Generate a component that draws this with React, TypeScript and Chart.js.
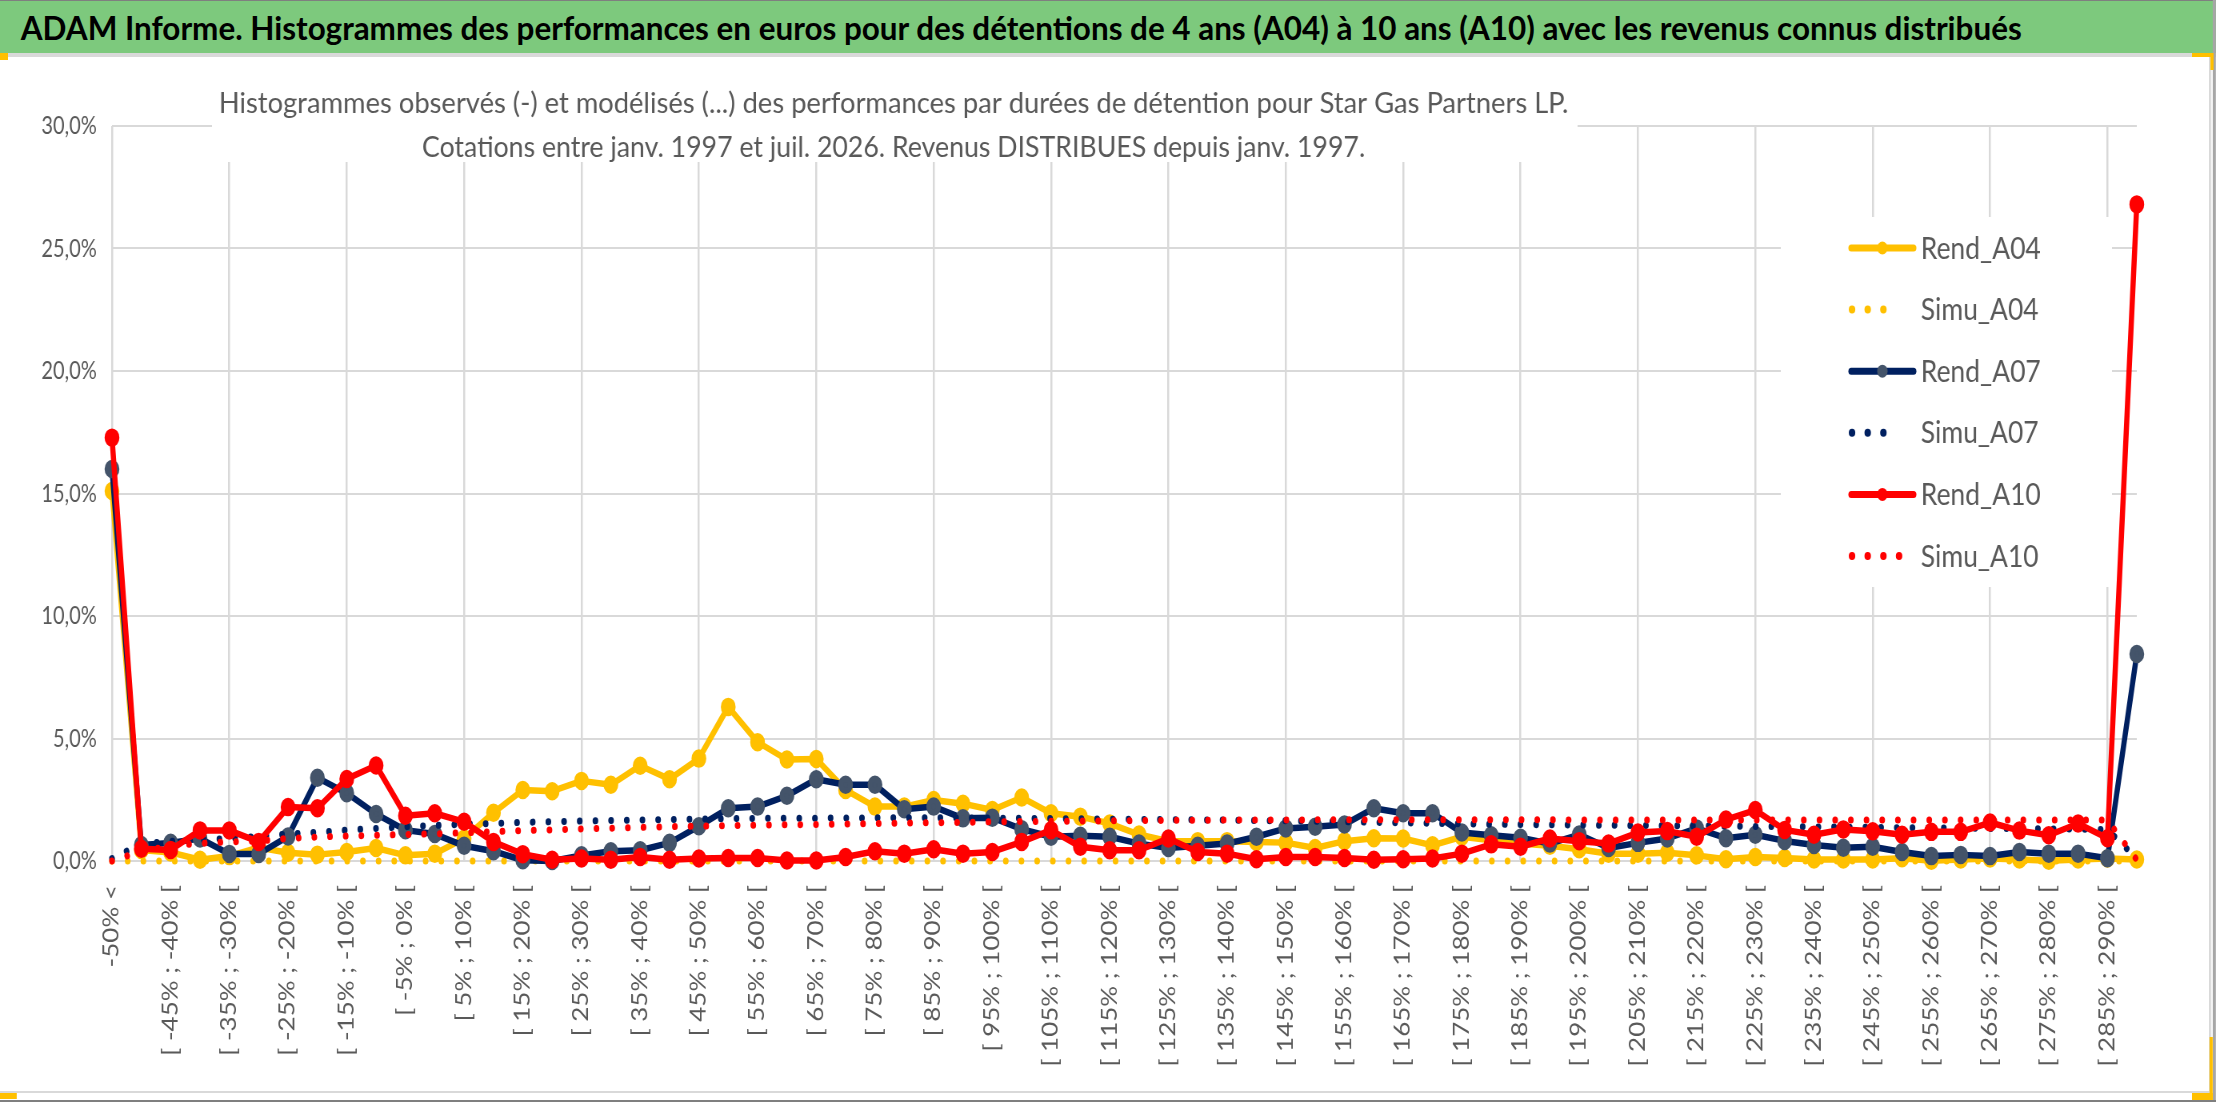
import React, { useEffect, useRef } from 'react';
import { Chart, registerables } from 'chart.js';

Chart.register(...registerables);

// The reference picture is horizontally condensed: everything is laid out
// in a wider box and squeezed back to the page width.
const SQUEEZE = 0.8;
const PAGE_W = 2216;
const PAGE_H = 1102;
const INNER_W = PAGE_W / SQUEEZE;

const FONT = 'Lato, "Open Sans", sans-serif';
const TEXT_GREY = '#595959';
const GRID = '#D9D9D9';
const YELLOW = '#FFC000';
const NAVY = '#002060';
const SLATE = '#44546A';
const RED = '#FF0000';

const TITLE =
  'ADAM Informe. Histogrammes des performances en euros pour des détentions de 4 ans (A04) à 10 ans (A10) avec les revenus connus distribués';
const SUBTITLE = [
  'Histogrammes observés (-) et modélisés (...) des performances par durées de détention pour Star Gas Partners LP.',
  'Cotations entre janv. 1997 et juil. 2026. Revenus DISTRIBUES depuis janv. 1997.',
];

const categories = [
  '-50% <',
  '[ -50% ; -45% [', '[ -45% ; -40% [', '[ -40% ; -35% [', '[ -35% ; -30% [', '[ -30% ; -25% [',
  '[ -25% ; -20% [', '[ -20% ; -15% [', '[ -15% ; -10% [', '[ -10% ; -5% [', '[ -5% ; 0% [',
  '[ 0% ; 5% [', '[ 5% ; 10% [', '[ 10% ; 15% [', '[ 15% ; 20% [', '[ 20% ; 25% [',
  '[ 25% ; 30% [', '[ 30% ; 35% [', '[ 35% ; 40% [', '[ 40% ; 45% [', '[ 45% ; 50% [',
  '[ 50% ; 55% [', '[ 55% ; 60% [', '[ 60% ; 65% [', '[ 65% ; 70% [', '[ 70% ; 75% [',
  '[ 75% ; 80% [', '[ 80% ; 85% [', '[ 85% ; 90% [', '[ 90% ; 95% [', '[ 95% ; 100% [',
  '[ 100% ; 105% [', '[ 105% ; 110% [', '[ 110% ; 115% [', '[ 115% ; 120% [', '[ 120% ; 125% [',
  '[ 125% ; 130% [', '[ 130% ; 135% [', '[ 135% ; 140% [', '[ 140% ; 145% [', '[ 145% ; 150% [',
  '[ 150% ; 155% [', '[ 155% ; 160% [', '[ 160% ; 165% [', '[ 165% ; 170% [', '[ 170% ; 175% [',
  '[ 175% ; 180% [', '[ 180% ; 185% [', '[ 185% ; 190% [', '[ 190% ; 195% [', '[ 195% ; 200% [',
  '[ 200% ; 205% [', '[ 205% ; 210% [', '[ 210% ; 215% [', '[ 215% ; 220% [', '[ 220% ; 225% [',
  '[ 225% ; 230% [', '[ 230% ; 235% [', '[ 235% ; 240% [', '[ 240% ; 245% [', '[ 245% ; 250% [',
  '[ 250% ; 255% [', '[ 255% ; 260% [', '[ 260% ; 265% [', '[ 265% ; 270% [', '[ 270% ; 275% [',
  '[ 275% ; 280% [', '[ 280% ; 285% [', '[ 285% ; 290% [', '> 290%',
];

// values in %
const rendA04 = [
  15.1, 0.45, 0.35, 0.05, 0.2, 0.55, 0.34, 0.26, 0.37, 0.53,
  0.23, 0.3, 0.92, 1.97, 2.9, 2.85, 3.27, 3.11, 3.89, 3.34,
  4.18, 6.29, 4.85, 4.14, 4.16, 2.9, 2.22, 2.22, 2.49, 2.34,
  2.08, 2.59, 1.95, 1.81, 1.53, 1.08, 0.81, 0.81, 0.81, 0.78,
  0.75, 0.53, 0.81, 0.93, 0.92, 0.64, 0.99, 0.85, 0.71, 0.62,
  0.48, 0.3, 0.3, 0.34, 0.23, 0.07, 0.16, 0.12, 0.06, 0.06,
  0.06, 0.11, 0.01, 0.06, 0.1, 0.06, 0.01, 0.06, 0.1, 0.06,
];
const simuA04 = [
  0, 0, 0, 0, 0, 0, 0, 0, 0, 0,
  0, 0, 0, 0, 0, 0, 0, 0, 0, 0,
  0, 0, 0, 0, 0, 0, 0, 0, 0, 0,
  0, 0, 0, 0, 0, 0, 0, 0, 0, 0,
  0, 0, 0, 0, 0, 0, 0, 0, 0, 0,
  0, 0, 0, 0, 0, 0, 0, 0, 0, 0,
  0, 0, 0, 0, 0, 0, 0, 0, 0, 0,
];
const rendA07 = [
  16.0, 0.65, 0.74, 0.92, 0.29, 0.29, 1.0, 3.4, 2.77, 1.92,
  1.26, 1.1, 0.62, 0.4, 0.03, 0.0, 0.23, 0.4, 0.44, 0.74,
  1.42, 2.15, 2.22, 2.66, 3.34, 3.11, 3.11, 2.11, 2.22, 1.74,
  1.77, 1.3, 0.99, 1.03, 0.99, 0.71, 0.53, 0.62, 0.71, 0.99,
  1.33, 1.4, 1.49, 2.15, 1.95, 1.95, 1.16, 1.05, 0.95, 0.71,
  1.08, 0.53, 0.74, 0.92, 1.33, 0.93, 1.07, 0.82, 0.65, 0.54,
  0.58, 0.37, 0.2, 0.25, 0.2, 0.37, 0.3, 0.3, 0.11, 8.45,
];
const simuA07 = [
  0.1, 0.7, 0.8, 0.85, 0.92, 1.0, 1.1, 1.17, 1.26, 1.33,
  1.4, 1.45, 1.5, 1.53, 1.58, 1.6, 1.63, 1.65, 1.67, 1.69,
  1.71, 1.73, 1.74, 1.75, 1.75, 1.76, 1.76, 1.77, 1.77, 1.76,
  1.75, 1.74, 1.73, 1.72, 1.71, 1.7, 1.69, 1.68, 1.67, 1.65,
  1.64, 1.62, 1.6, 1.58, 1.56, 1.54, 1.52, 1.5, 1.49, 1.48,
  1.47, 1.46, 1.45, 1.44, 1.43, 1.42, 1.41, 1.4, 1.39, 1.38,
  1.37, 1.36, 1.35, 1.34, 1.33, 1.32, 1.31, 1.3, 1.28, 0.1,
];
const rendA10 = [
  17.28, 0.5, 0.45, 1.25, 1.25, 0.78, 2.2, 2.15, 3.35, 3.9,
  1.85, 1.95, 1.6, 0.78, 0.28, 0.05, 0.1, 0.05, 0.16, 0.05,
  0.1, 0.12, 0.12, 0.02, 0.02, 0.16, 0.4, 0.3, 0.48, 0.3,
  0.37, 0.78, 1.26, 0.58, 0.44, 0.44, 0.92, 0.37, 0.3, 0.07,
  0.16, 0.16, 0.12, 0.05, 0.07, 0.1, 0.3, 0.68, 0.58, 0.92,
  0.81, 0.71, 1.16, 1.22, 0.99, 1.69, 2.08, 1.27, 1.07, 1.29,
  1.21, 1.07, 1.19, 1.19, 1.57, 1.24, 1.05, 1.53, 0.93, 26.8,
];
const simuA10 = [
  0.0, 0.4, 0.62, 0.72, 0.78, 0.82, 0.92, 0.98, 1.02, 1.05,
  1.08, 1.11, 1.15, 1.2, 1.24, 1.27, 1.31, 1.34, 1.37, 1.4,
  1.42, 1.44, 1.46, 1.48, 1.49, 1.51, 1.53, 1.55, 1.56, 1.58,
  1.6, 1.61, 1.62, 1.63, 1.64, 1.65, 1.66, 1.66, 1.67, 1.67,
  1.67, 1.68, 1.68, 1.68, 1.68, 1.68, 1.68, 1.68, 1.68, 1.68,
  1.67, 1.67, 1.67, 1.67, 1.67, 1.67, 1.67, 1.67, 1.67, 1.67,
  1.67, 1.67, 1.67, 1.67, 1.67, 1.67, 1.67, 1.67, 1.67, 0.05,
];

const legendItems = [
  { label: 'Rend_A04', line: YELLOW, marker: YELLOW, dots: 0 },
  { label: 'Simu_A04', line: YELLOW, marker: '', dots: 4 },
  { label: 'Rend_A07', line: NAVY, marker: SLATE, dots: 0 },
  { label: 'Simu_A07', line: NAVY, marker: '', dots: 4 },
  { label: 'Rend_A10', line: RED, marker: RED, dots: 0 },
  { label: 'Simu_A10', line: RED, marker: '', dots: 5 },
];

const DOT_GAP = 19.5;

function measure(text: string, font: string): number {
  const ctx = document.createElement('canvas').getContext('2d');
  if (!ctx) return 1;
  ctx.font = font;
  return ctx.measureText(text).width;
}

// subtitle box and legend, drawn over the plot with white backgrounds
const overlayPlugin = {
  id: 'overlay',
  afterDraw(chart: Chart) {
    const ctx = chart.ctx;
    ctx.save();

    ctx.fillStyle = '#FFFFFF';
    ctx.fillRect(265, 28, 1707, 77);
    ctx.fillStyle = TEXT_GREY;
    ctx.font = `29px ${FONT}`;
    ctx.textAlign = 'center';
    ctx.textBaseline = 'alphabetic';
    const targets = [1687, 1179];
    const baselines = [56, 100];
    SUBTITLE.forEach((line, i) => {
      const w = ctx.measureText(line).width;
      ctx.save();
      ctx.translate(1117, baselines[i]);
      ctx.scale(targets[i] / w, 1);
      ctx.fillText(line, 0, 0);
      ctx.restore();
    });

    ctx.fillStyle = '#FFFFFF';
    ctx.fillRect(2226, 160, 414, 370);
    ctx.font = `30px ${FONT}`;
    ctx.textAlign = 'left';
    ctx.textBaseline = 'middle';
    const textScale = 150 / ctx.measureText('Rend_A04').width;
    legendItems.forEach((item, i) => {
      const y = 191 + i * 61.6;
      ctx.strokeStyle = item.line;
      ctx.lineCap = 'round';
      if (item.dots > 0) {
        ctx.lineWidth = 8;
        ctx.setLineDash([0.1, DOT_GAP]);
        ctx.beginPath();
        ctx.moveTo(2315, y);
        ctx.lineTo(2315 + (item.dots - 1) * DOT_GAP + 0.2, y);
        ctx.stroke();
        ctx.setLineDash([]);
      } else {
        ctx.lineWidth = 7;
        ctx.beginPath();
        ctx.moveTo(2314, y);
        ctx.lineTo(2392, y);
        ctx.stroke();
        ctx.fillStyle = item.marker;
        ctx.beginPath();
        ctx.arc(2353, y, 6.5, 0, Math.PI * 2);
        ctx.fill();
      }
      ctx.fillStyle = TEXT_GREY;
      ctx.save();
      ctx.translate(2401, y + 1);
      ctx.scale(textScale, 1);
      ctx.fillText(item.label, 0, 0);
      ctx.restore();
    });

    ctx.restore();
  },
};

const rendStyle = (line: string, marker: string, order: number) => ({
  borderColor: line,
  backgroundColor: marker,
  pointBackgroundColor: marker,
  pointBorderColor: marker,
  borderWidth: 6.5,
  borderJoinStyle: 'round' as const,
  pointRadius: 6,
  pointHoverRadius: 6,
  tension: 0,
  clip: false as const,
  order,
});

const simuStyle = (color: string, order: number) => ({
  borderColor: color,
  backgroundColor: color,
  borderWidth: 7,
  borderDash: [0.1, DOT_GAP],
  borderCapStyle: 'round' as const,
  pointRadius: 0,
  pointHoverRadius: 0,
  tension: 0,
  clip: false as const,
  order,
});

const HistoChart: React.FC = () => {
  const canvasRef = useRef<HTMLCanvasElement | null>(null);

  useEffect(() => {
    const canvas = canvasRef.current;
    if (!canvas) return;

    const chart = new Chart(canvas, {
      type: 'line',
      data: {
        labels: categories,
        datasets: [
          { label: 'Rend_A04', data: rendA04, ...rendStyle(YELLOW, YELLOW, 6) },
          { label: 'Simu_A04', data: simuA04, ...simuStyle(YELLOW, 5) },
          { label: 'Rend_A07', data: rendA07, ...rendStyle(NAVY, SLATE, 4) },
          { label: 'Simu_A07', data: simuA07, ...simuStyle(NAVY, 3) },
          { label: 'Rend_A10', data: rendA10, ...rendStyle(RED, RED, 2) },
          { label: 'Simu_A10', data: simuA10, ...simuStyle(RED, 1) },
        ],
      },
      options: {
        animation: false,
        responsive: true,
        maintainAspectRatio: false,
        events: [],
        layout: { padding: { left: 0, right: 99, top: 69, bottom: 0 } },
        plugins: {
          legend: { display: false },
          title: { display: false },
          tooltip: { enabled: false },
        },
        scales: {
          x: {
            offset: false,
            border: { display: false },
            grid: {
              color: (c: any) => (c.index % 4 === 0 ? GRID : 'rgba(0,0,0,0)'),
              lineWidth: 2.5,
              drawTicks: false,
            },
            ticks: {
              autoSkip: false,
              minRotation: 90,
              maxRotation: 90,
              padding: 24,
              color: TEXT_GREY,
              font: { family: FONT, size: 26 },
              callback: (_v: any, i: number) => (i % 2 === 0 ? categories[i] : ''),
            },
            afterFit: (axis: any) => {
              axis.height = 230;
            },
          },
          y: {
            min: 0,
            max: 30,
            border: { display: false },
            grid: { color: GRID, lineWidth: 2, drawTicks: false },
            ticks: {
              stepSize: 5,
              padding: 19,
              color: TEXT_GREY,
              font: { family: FONT, size: 25 },
              callback: (v: any) => Number(v).toFixed(1).replace('.', ',') + '%',
            },
            afterFit: (axis: any) => {
              axis.width = 140;
            },
          },
        },
      },
      plugins: [overlayPlugin],
    });

    return () => {
      chart.destroy();
    };
  }, []);

  return <canvas ref={canvasRef} />;
};

const box = (left: number, top: number, width: number, height: number, background: string): React.CSSProperties => ({
  position: 'absolute',
  left,
  top,
  width,
  height,
  background,
});

export default function App() {
  const titleFont = `bold 32px ${FONT}`;
  const titleScale = 2502 / measure(TITLE, titleFont);

  return (
    <div
      style={{
        position: 'fixed',
        left: 0,
        top: 0,
        width: PAGE_W,
        height: PAGE_H,
        overflow: 'hidden',
        background: '#FFFFFF',
      }}
    >
      <div
        style={{
          position: 'absolute',
          left: 0,
          top: 0,
          width: INNER_W,
          height: PAGE_H,
          transform: `scaleX(${SQUEEZE})`,
          transformOrigin: '0 0',
        }}
      >
        <div style={box(0, 0, INNER_W, 1, '#7F7F7F')} />
        <div style={{ ...box(0, 1, INNER_W, 52, '#7DC97D'), overflow: 'hidden' }}>
          <span
            style={{
              position: 'absolute',
              left: 26,
              top: 0,
              whiteSpace: 'nowrap',
              font: titleFont,
              lineHeight: '53px',
              color: '#000000',
              transform: `scaleX(${titleScale})`,
              transformOrigin: '0 50%',
            }}
          >
            {TITLE}
          </span>
        </div>
        <div style={box(0, 53, INNER_W, 4, GRID)} />

        <div style={{ position: 'absolute', left: 0, top: 57, width: INNER_W, height: 1034 }}>
          <HistoChart />
        </div>

        <div style={box(2761, 57, 2.5, 1036, GRID)} />
        <div style={box(0, 1091, 2764, 2, GRID)} />
        <div style={box(2766, 0, 4, PAGE_H, '#A6A6A6')} />
        <div style={box(0, 1100, INNER_W, 2, '#7F7F7F')} />

        <div style={box(0, 53, 10, 7, YELLOW)} />
        <div style={box(2740, 53, 26, 4, YELLOW)} />
        <div style={box(2763, 53, 4, 17, YELLOW)} />
        <div style={box(0, 1093, 21, 6, YELLOW)} />
        <div style={box(2762, 1037, 4, 63, YELLOW)} />
        <div style={box(2740, 1093, 26, 7, YELLOW)} />
      </div>
    </div>
  );
}
